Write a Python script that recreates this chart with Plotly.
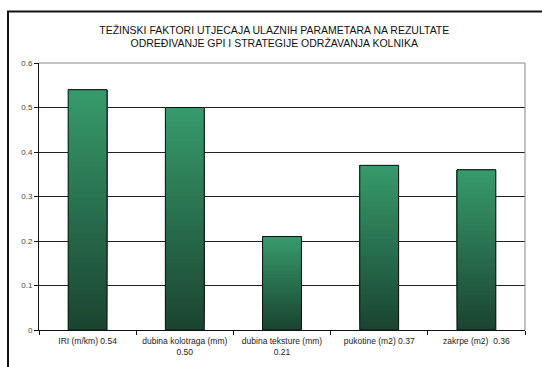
import plotly.graph_objects as go

# Input parameters and their weighting factors
categories = ["IRI (m/km)", "dubina kolotraga (mm)", "dubina teksture (mm)",
              "pukotine (m2)", "zakrpe (m2) "]
weights = [0.54, 0.50, 0.21, 0.37, 0.36]
wrap_label = [False, True, True, False, False]
y_ticks = [0, 0.1, 0.2, 0.3, 0.4, 0.5, 0.6]

tick_text = [f"{c}{'<br>' if w else ' '}{v:.2f}" for c, v, w in zip(categories, weights, wrap_label)]

TOP = (0x37, 0x9b, 0x6c)
BOTTOM = (0x1a, 0x44, 0x30)
N_STEPS = 60


def mix(t):
    r, g, b = (round(BOTTOM[i] + (TOP[i] - BOTTOM[i]) * t) for i in range(3))
    return f"rgb({r},{g},{b})"


fig = go.Figure()

# vertical gradient fill: overlapping bars, each starting a little higher
# and reaching the full bar top, lighter as they go up
for k in range(N_STEPS):
    fig.add_trace(go.Bar(
        x=categories,
        y=[v * (N_STEPS - k) / N_STEPS for v in weights],
        base=[v * k / N_STEPS for v in weights],
        marker=dict(color=mix((k + 0.5) / N_STEPS), line=dict(width=0)),
        hoverinfo="skip",
        showlegend=False,
    ))

# bar outline on top
fig.add_trace(go.Bar(
    x=categories,
    y=weights,
    marker=dict(color="rgba(0,0,0,0)", line=dict(color="#111", width=1)),
    showlegend=False,
    hovertemplate="%{x}: %{y}<extra></extra>",
))

fig.update_layout(
    width=542, height=367,
    margin=dict(l=39, r=17, t=63, b=37),
    barmode="overlay",
    bargap=0.6,
    paper_bgcolor="white",
    plot_bgcolor="white",
    font=dict(family="Liberation Sans, Arial, sans-serif", size=8, color="#222"),
    title=dict(
        text="TEŽINSKI FAKTORI UTJECAJA ULAZNIH PARAMETARA NA REZULTATE<br>"
             "ODREĐIVANJE GPI I STRATEGIJE ODRŽAVANJA KOLNIKA",
        x=0.506, xanchor="center", xref="container",
        y=0.908, yanchor="top", yref="container",
        font=dict(size=10.5, color="#111"),
    ),
    xaxis=dict(
        type="category", automargin=False,
        tickmode="array", tickvals=categories, ticktext=tick_text,
        tickson="boundaries", ticks="outside", ticklen=4, tickcolor="#111",
        ticklabelstandoff=3,
        showline=True, linecolor="#111", linewidth=1,
        showgrid=False, zeroline=False,
        tickfont=dict(size=8.5, color="#222"),
    ),
    yaxis=dict(
        range=[0, 0.6], automargin=False,
        tickmode="array", tickvals=y_ticks,
        ticktext=[("0" if t == 0 else f"{t:.1f}") for t in y_ticks],
        ticks="outside", ticklen=4, tickcolor="#111",
        showline=True, linecolor="#111", linewidth=1,
        showgrid=True, gridcolor="#222", gridwidth=1,
        zeroline=False,
        tickfont=dict(size=8, color="#444"),
    ),
    shapes=[
        # plot area border (top and right)
        dict(type="line", xref="paper", yref="paper", x0=0, x1=1, y0=1, y1=1,
             line=dict(color="#888", width=1)),
        dict(type="line", xref="paper", yref="paper", x0=1, x1=1, y0=0, y1=1,
             line=dict(color="#888", width=1)),
        # outer chart frame
        dict(type="rect", xref="paper", yref="paper",
             x0=-0.0638, x1=1.2, y0=-0.5, y1=1.193,
             line=dict(color="#111", width=2), layer="below"),
    ],
)

fig.write_html("out.html")
